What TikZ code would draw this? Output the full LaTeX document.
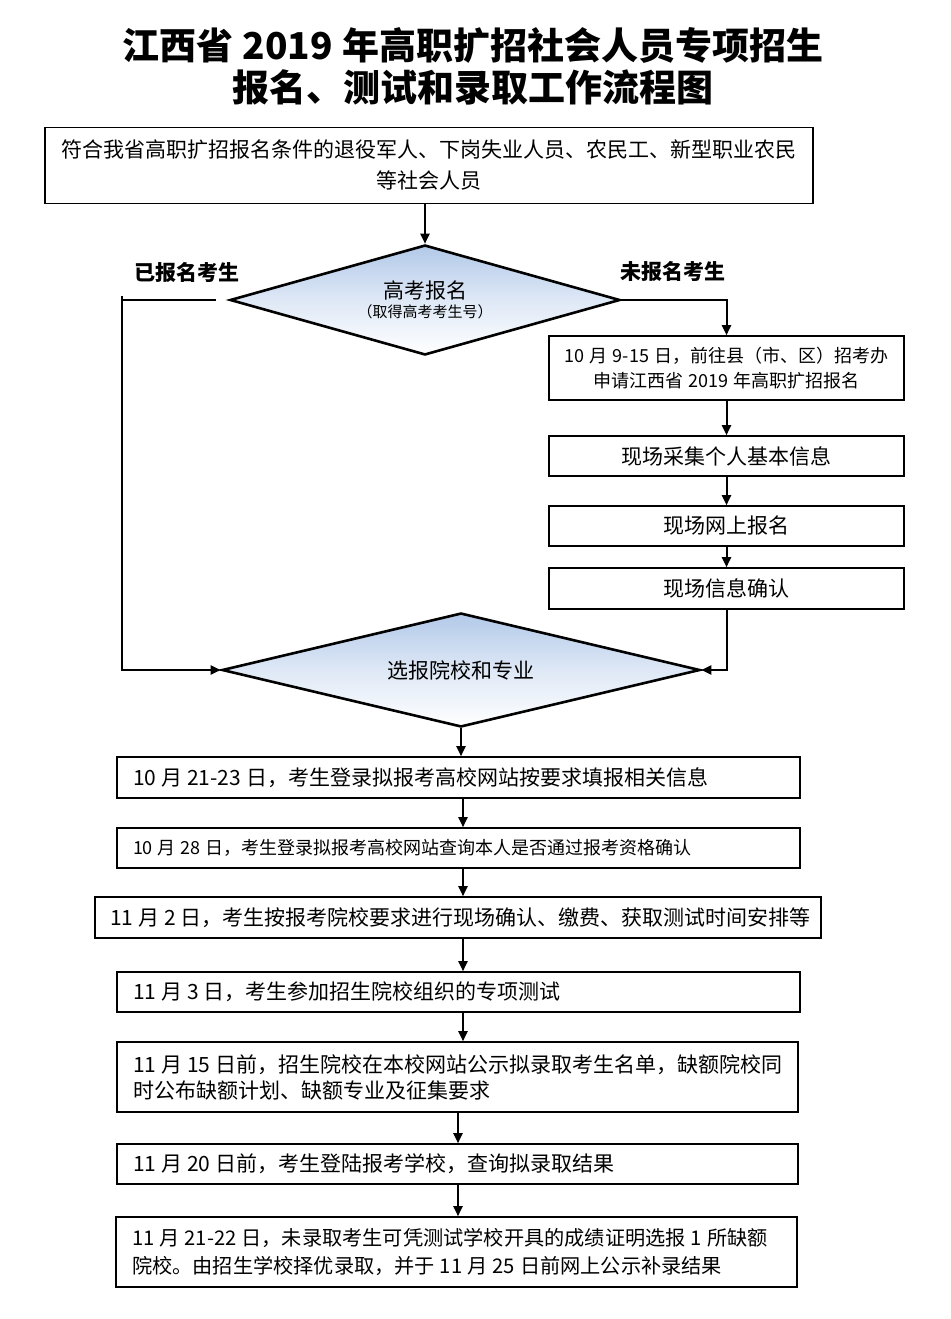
\documentclass[tikz,border=0pt]{standalone}
\usepackage{fontspec}
\setmainfont{Noto Sans CJK SC}
\usetikzlibrary{shapes.geometric,arrows.meta}
\definecolor{dtop}{RGB}{178,201,232}
\definecolor{dmid}{RGB}{222,232,246}
\newcommand\sgap{\nobreak\hspace{5pt}\nobreak}
\newcommand\tgap{\hspace{9pt}}
\begin{document}
\begin{tikzpicture}[x=1pt,y=-1pt,
  box/.style={draw, line width=1.6pt, inner sep=0pt, align=center},
  lbox/.style={draw, line width=1.6pt, inner ysep=0pt, align=left},
  dia/.style={diamond, draw, line width=2.6pt, inner sep=0pt, top color=dtop, bottom color=white, middle color=dmid, shape aspect=4, align=center},
  arr/.style={line width=2pt, -{Triangle[length=10pt,width=9pt]}},
  ln/.style={line width=2pt},
  f21/.style={font=\fontsize{21}{26}\selectfont},
  f18/.style={font=\fontsize{18}{25}\selectfont},
]
\fill[white] (0,0) rectangle (950,1319);
\useasboundingbox (0,0) rectangle (950,1319);

\node[align=center, font=\bfseries\fontsize{37}{42}\selectfont] (title) at (473,66)
  {江西省\tgap 2019\tgap 年高职扩招社会人员专项招生\\报名、测试和录取工作流程图};

\node[box, minimum width=768pt, minimum height=76pt, font=\fontsize{21}{31}\selectfont] (top) at (429,165.5)
  {符合我省高职扩招报名条件的退役军人、下岗失业人员、农民工、新型职业农民\\等社会人员};

\node[dia, minimum width=390pt, minimum height=110pt] (d1) at (425,300)
  {{\fontsize{21}{24}\selectfont 高考报名}\\[3pt]{\fontsize{15}{18}\selectfont （取得高考考生号）}};

\node[font=\bfseries\fontsize{21}{26}\selectfont] (lyes) at (187,272) {已报名考生};
\node[font=\bfseries\fontsize{21}{26}\selectfont] (lno) at (673,271) {未报名考生};

\node[box, f18, minimum width=355pt, minimum height=64pt] (r1) at (726.5,368)
  {10\sgap 月\sgap 9-15\sgap 日，前往县（市、区）招考办\\申请江西省\sgap 2019\sgap 年高职扩招报名};
\node[box, f21, minimum width=355pt, minimum height=40pt] (r2) at (726.5,456) {现场采集个人基本信息};
\node[box, f21, minimum width=355pt, minimum height=40pt] (r3) at (726.5,526) {现场网上报名};
\node[box, f21, minimum width=355pt, minimum height=41pt] (r4) at (726.5,588.5) {现场信息确认};

\node[dia, minimum width=478pt, minimum height=114pt, f21] (d2) at (461,670) {选报院校和专业};

\node[lbox, f21, inner xsep=16pt, text width=651pt, minimum height=41pt] (b1) at (458.5,777.5)
  {10\sgap 月\sgap 21-23\sgap 日，考生登录拟报考高校网站按要求填报相关信息};
\node[lbox, f18, inner xsep=16pt, text width=651pt, minimum height=40pt] (b2) at (458.5,848)
  {10\sgap 月\sgap 28\sgap 日，考生登录拟报考高校网站查询本人是否通过报考资格确认};
\node[lbox, f21, inner xsep=15pt, text width=696pt, minimum height=41pt] (b3) at (458,917.5)
  {11\sgap 月\sgap 2\sgap 日，考生按报考院校要求进行现场确认、缴费、获取测试时间安排等};
\node[lbox, f21, inner xsep=16pt, text width=651pt, minimum height=40pt] (b4) at (458.5,992)
  {11\sgap 月\sgap 3\sgap 日，考生参加招生院校组织的专项测试};
\node[lbox, f21, inner xsep=16pt, text width=649pt, minimum height=70pt] (b5) at (457.5,1077)
  {11\sgap 月\sgap 15\sgap 日前，招生院校在本校网站公示拟录取考生名单，缺额院校同\\时公布缺额计划、缺额专业及征集要求};
\node[lbox, f21, inner xsep=16pt, text width=649pt, minimum height=40pt] (b6) at (457.5,1164)
  {11\sgap 月\sgap 20\sgap 日前，考生登陆报考学校，查询拟录取结果};
\node[lbox, font=\fontsize{20.2}{28}\selectfont, inner xsep=16pt, text width=649pt, minimum height=70pt] (b7) at (456.5,1252)
  {\mbox{11\sgap 月\sgap 21-22\sgap 日，未录取考生可凭测试学校开具的成绩证明选报\sgap 1\sgap 所缺额}\\\mbox{院校。由招生学校择优录取，并于\sgap 11\sgap 月\sgap 25\sgap 日前网上公示补录结果}};

% connectors
\draw[arr] (top.south -| d1.north) -- (d1.north);
\coordinate (lc) at (122,300);
\draw[ln] ([xshift=-13pt]d1.west) -- (lc);
\draw[arr] ([yshift=4pt]lc) -- (lc |- d2.west) -- (d2.west);
\draw[arr] (d1.east) -| (r1.north);
\draw[arr] (r1.south) -- (r2.north);
\draw[arr] (r2.south) -- (r3.north);
\draw[arr] (r3.south) -- (r4.north);
\draw[arr] (r4.south) |- (d2.east);

\coordinate (ax) at (463,0);
\coordinate (bx) at (458,0);
\draw[arr] (d2.south) -- (d2.south |- b1.north);
\draw[arr] (b1.south -| ax) -- (b2.north -| ax);
\draw[arr] (b2.south -| ax) -- (b3.north -| ax);
\draw[arr] (b3.south -| ax) -- (b4.north -| ax);
\draw[arr] (b4.south -| ax) -- (b5.north -| ax);
\draw[arr] (b5.south -| bx) -- (b6.north -| bx);
\draw[arr] (b6.south -| bx) -- (b7.north -| bx);
\end{tikzpicture}
\end{document}
